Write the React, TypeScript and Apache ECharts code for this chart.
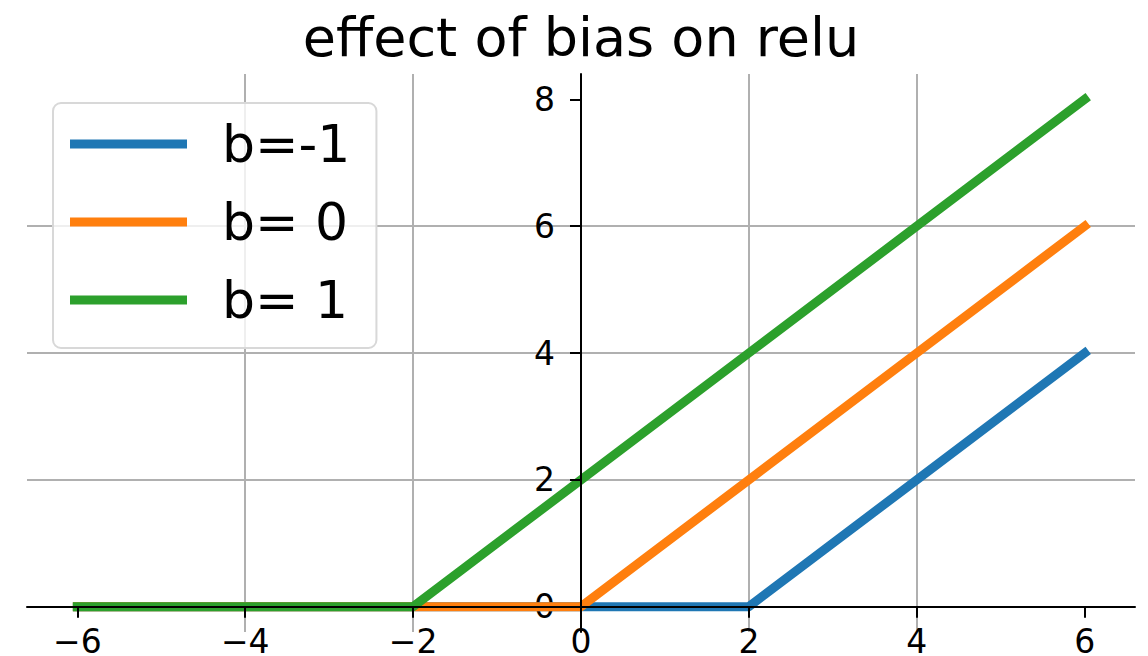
import { useEffect, useRef } from "react";
import * as echarts from "echarts";

// x samples and relu(x + 2b) for each bias value
const xValues = [-6, -4, -2, 0, 2, 4, 6];
const reluBiasMinus1 = [0, 0, 0, 0, 0, 2, 4];
const reluBias0 = [0, 0, 0, 0, 2, 4, 6];
const reluBias1 = [0, 0, 0, 2, 4, 6, 8];
const seriesNames = ["b=-1", "b= 0", "b= 1"];
const seriesColors = ["#1f77b4", "#ff7f0e", "#2ca02c"];
const xTicks = [-6, -4, -2, 0, 2, 4, 6];
const yTicks = [0, 2, 4, 6, 8];
const titleText = "effect of bias on relu";

const FONT = "DejaVu Sans";
const X_MIN = -6.6;
const X_MAX = 6.6;
const Y_MIN = -0.4;
const Y_MAX = 8.4;

// plot box in pixels
const GRID = { left: 27, right: 13, top: 74, bottom: 24 };
const W = 1148;
const H = 656;
const plotW = W - GRID.left - GRID.right;
const plotH = H - GRID.top - GRID.bottom;
// shift the label axes from the plot edges to the data origin
const yLabelOffset = -plotW * ((0 - X_MIN) / (X_MAX - X_MIN));
const xLabelOffset = -plotH * ((0 - Y_MIN) / (Y_MAX - Y_MIN));

const fmt = (v: number) => (v < 0 ? "\u2212" + Math.abs(v) : String(v));

export default function App() {
  const ref = useRef<HTMLDivElement>(null);

  useEffect(() => {
    if (!ref.current) return;
    const chart = echarts.init(ref.current, undefined, { renderer: "svg" });

    const toPairs = (ys: number[]) => xValues.map((x, i) => [x, ys[i]]);
    const allSeries = [reluBiasMinus1, reluBias0, reluBias1];

    const gridLine = { show: true, showMinLine: false, showMaxLine: false, lineStyle: { color: "#b0b0b0", width: 2 } };
    const spine = { color: "#000", width: 2 };
    const tickLabel = { fontSize: 33, fontFamily: FONT, color: "#000", formatter: fmt };

    // axes 0: grid lines, axes 1: tick labels (both under the curves)
    // axes 2: spines and ticks through the origin (over the curves)
    const xBase = { type: "value", position: "bottom", min: X_MIN, max: X_MAX };
    const yBase = { type: "value", position: "left", min: Y_MIN, max: Y_MAX };

    chart.setOption({
      animation: false,
      backgroundColor: "#ffffff",
      grid: { ...GRID, containLabel: false, outerBoundsMode: "none" },
      graphic: [
        {
          type: "text",
          x: 581,
          y: 37,
          silent: true,
          style: {
            text: titleText,
            fontSize: 54,
            fontFamily: FONT,
            fill: "#000",
            align: "center",
            verticalAlign: "middle",
          },
        },
      ],
      legend: {
        data: seriesNames,
        orient: "vertical",
        left: 53,
        top: 103,
        icon: "rect",
        itemWidth: 117,
        itemHeight: 9,
        itemGap: 26,
        padding: [15, 26, 22, 17],
        backgroundColor: "rgba(255,255,255,0.8)",
        borderColor: "#d8d8d8",
        borderWidth: 2,
        borderRadius: 8,
        selectedMode: false,
        z: 10,
        textStyle: { fontSize: 52, fontFamily: FONT, color: "#000", padding: [0, 0, 0, 30] },
      },
      xAxis: [
        {
          ...xBase,
          z: 0,
          axisLine: { show: false, onZero: false },
          axisTick: { show: false, customValues: xTicks },
          axisLabel: { show: false },
          splitLine: gridLine,
        },
        {
          ...xBase,
          z: 1,
          offset: xLabelOffset,
          axisLine: { show: false, onZero: false },
          axisTick: { show: false, customValues: xTicks },
          axisLabel: { ...tickLabel, lineHeight: 26, customValues: xTicks, margin: 22 },
          splitLine: { show: false },
        },
        {
          ...xBase,
          z: 5,
          axisLine: { show: true, onZero: true, onZeroAxisIndex: 0, lineStyle: spine },
          axisTick: { show: true, customValues: xTicks, length: 11, lineStyle: spine },
          axisLabel: { show: false },
          splitLine: { show: false },
        },
      ],
      yAxis: [
        {
          ...yBase,
          z: 0,
          axisLine: { show: false, onZero: false },
          axisTick: { show: false, customValues: yTicks },
          axisLabel: { show: false },
          splitLine: gridLine,
        },
        {
          ...yBase,
          z: 1,
          offset: yLabelOffset,
          axisLine: { show: false, onZero: false },
          axisTick: { show: false, customValues: yTicks },
          axisLabel: { ...tickLabel, customValues: yTicks, margin: 26 },
          splitLine: { show: false },
        },
        {
          ...yBase,
          z: 5,
          axisLine: { show: true, onZero: true, onZeroAxisIndex: 0, lineStyle: spine },
          axisTick: { show: true, customValues: yTicks, length: 11, lineStyle: spine },
          axisLabel: { show: false },
          splitLine: { show: false },
        },
      ],
      series: allSeries.map((ys, i) => ({
        name: seriesNames[i],
        type: "line",
        xAxisIndex: 0,
        yAxisIndex: 0,
        data: toPairs(ys),
        symbol: "none",
        showSymbol: false,
        silent: true,
        z: 2,
        color: seriesColors[i],
        lineStyle: { width: 9, color: seriesColors[i], cap: "square", join: "round" },
        emphasis: { disabled: true },
      })),
    });

    return () => chart.dispose();
  }, []);

  return (
    <div
      ref={ref}
      style={{ position: "fixed", left: 0, top: 0, width: W, height: H, background: "#fff" }}
    />
  );
}
